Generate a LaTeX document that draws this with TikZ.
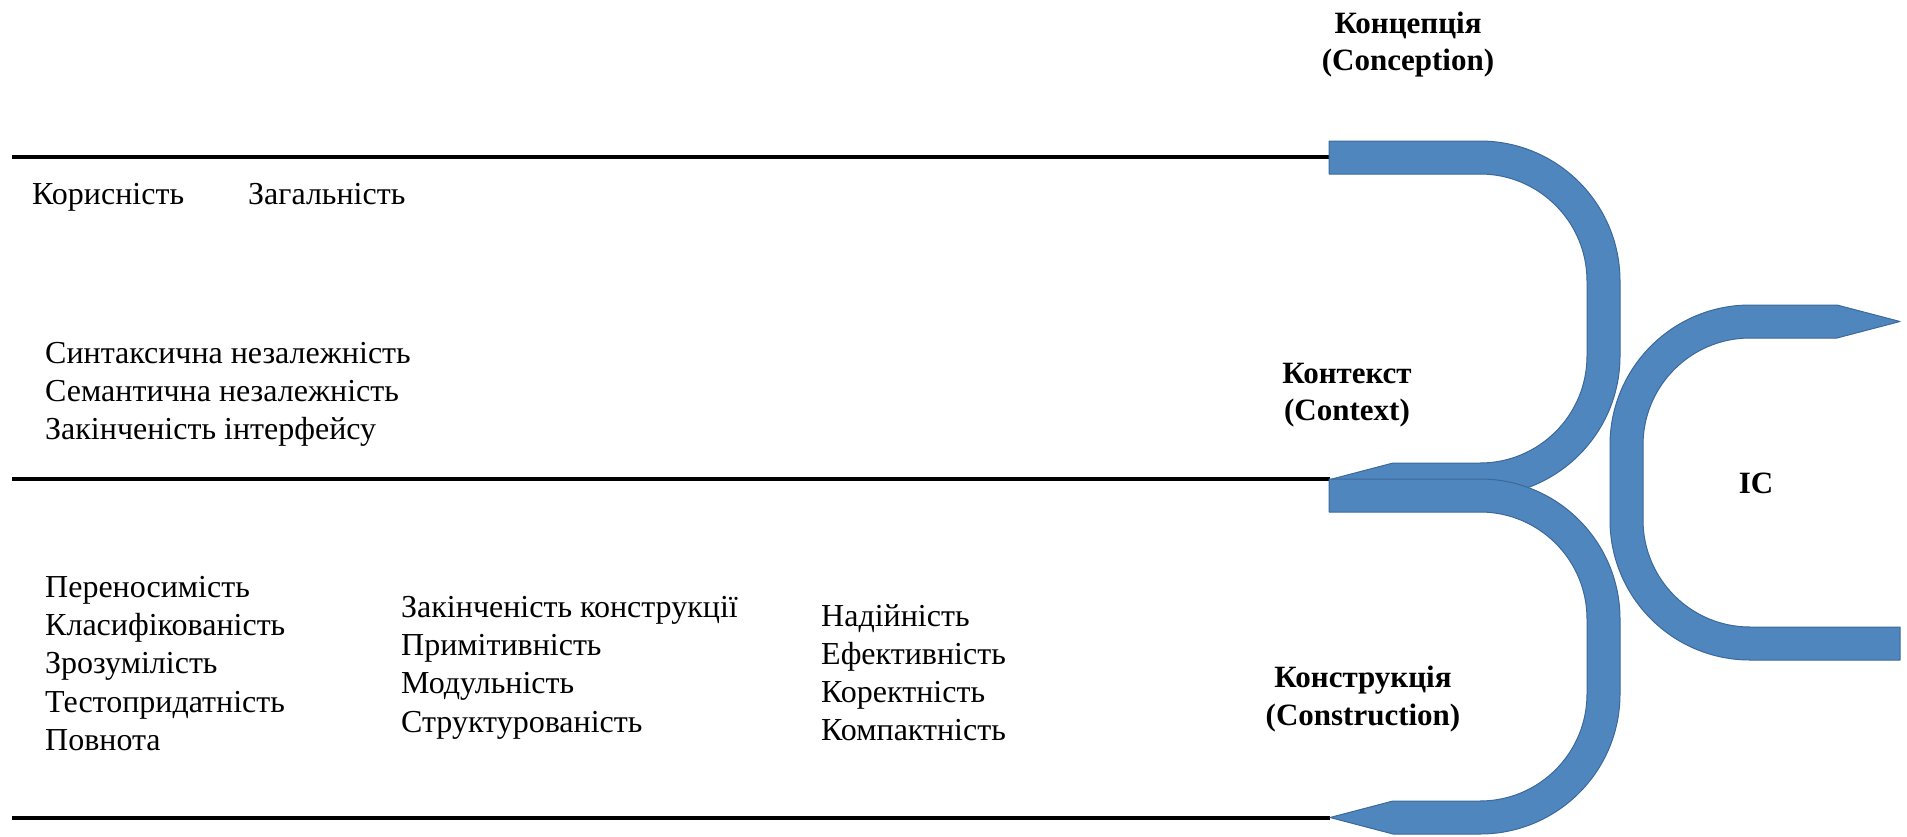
\documentclass[tikz,border=0pt]{standalone}
\usepackage{fontspec}
\setmainfont{Liberation Serif}
\definecolor{ublue}{RGB}{79,134,189}
\definecolor{uedge}{RGB}{60,105,155}
\begin{document}
\begin{tikzpicture}[x=1pt,y=-1pt,
  lab/.style={anchor=base west, inner sep=0pt, font=\fontsize{32}{38}\selectfont},
  head/.style={anchor=base, inner sep=0pt, font=\bfseries\fontsize{31}{37}\selectfont},
  ushape/.style={fill=ublue, draw=uedge, line width=1pt, line join=round},
  sepline/.style={line width=4pt},
  pics/uarrow/.style={code={
    \path[ushape] (1329,141) -- (1480,141) arc[start angle=-90,end angle=0,radius=140]
      -- (1620,356) arc[start angle=0,end angle=90,radius=140]
      -- (1393,496) -- (1330,479.5) -- (1393,463) -- (1480,463)
      arc[start angle=90,end angle=0,radius=107]
      -- (1587,281) arc[start angle=0,end angle=-90,radius=107]
      -- (1329,174) -- cycle;
  }}]
\useasboundingbox (0,0) rectangle (1907,836);
% separator lines
\coordinate (L1a) at (12,157);  \coordinate (L1b) at (1329,157);
\coordinate (L2a) at (12,479);  \coordinate (L2b) at (1330,479);
\coordinate (L3a) at (12,818);  \coordinate (L3b) at (1330,818);
\draw[sepline] (L1a) -- (L1b);
\draw[sepline] (L2a) -- (L2b);
\draw[sepline] (L3a) -- (L3b);
% U-turn arrows
\pic (conc) at (0,0) {uarrow};
\pic (cons) at (0,338) {uarrow};
\path[ushape] (1750,305) -- (1837,305) -- (1900,321.5) -- (1837,338) -- (1750,338)
  arc[start angle=-90,end angle=-180,radius=107]
  -- (1643,520) arc[start angle=180,end angle=90,radius=107]
  -- (1900,627) -- (1900,660) -- (1750,660)
  arc[start angle=90,end angle=180,radius=140]
  -- (1610,445) arc[start angle=180,end angle=270,radius=140] -- cycle;
% headings
\node[head] (h1a) at (1408,33) {Концепція};
\node[head] (h1b) at (1408,70) {(Conception)};
\node[head] (h2a) at (1347,383) {Контекст};
\node[head] (h2b) at (1347,420) {(Context)};
\node[head] (h3a) at (1363,687) {Конструкція};
\node[head] (h3b) at (1363,725) {(Construction)};
\node[head] (ic) at (1756,493) {IC};
% texts
\node[lab] (t1) at (32,204) {Корисність};
\node[lab] (t2) at (248,204) {Загальність};
\node[lab] (s1) at (45,363) {Синтаксична незалежність};
\node[lab] (s2) at (45,401) {Семантична незалежність};
\node[lab] (s3) at (45,439) {Закінченість інтерфейсу};
\node[lab] (a1) at (45,597) {Переносимість};
\node[lab] (a2) at (45,635) {Класифікованість};
\node[lab] (a3) at (45,673) {Зрозумілість};
\node[lab] (a4) at (45,712) {Тестопридатність};
\node[lab] (a5) at (45,750) {Повнота};
\node[lab] (b1) at (401,617) {Закінченість конструкції};
\node[lab] (b2) at (401,655) {Примітивність};
\node[lab] (b3) at (401,693) {Модульність};
\node[lab] (b4) at (401,732) {Структурованість};
\node[lab] (c1) at (821,626) {Надійність};
\node[lab] (c2) at (821,664) {Ефективність};
\node[lab] (c3) at (821,702) {Коректність};
\node[lab] (c4) at (821,740) {Компактність};
\end{tikzpicture}
\end{document}
